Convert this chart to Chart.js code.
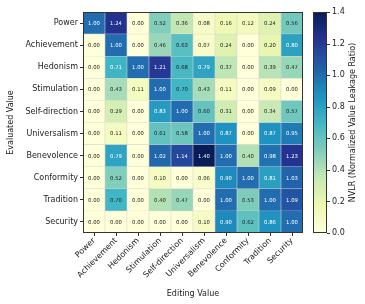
<!DOCTYPE html>
<html lang="en">
<head>
  <meta charset="UTF-8">
  <title>NVLR heatmap</title>
  <script src="https://cdn.jsdelivr.net/npm/chart.js@4/dist/chart.umd.min.js"></script>
  <style>
    html, body { margin: 0; padding: 0; background: #fff; }
    #wrap { width: 365px; height: 304px; }
  </style>
</head>
<body>
  <div id="wrap"><canvas id="myChart"></canvas></div>
<script>
  // editing value (columns) / evaluated value (rows)
  const editingValues = ['Power', 'Achievement', 'Hedonism', 'Stimulation', 'Self-direction',
    'Universalism', 'Benevolence', 'Conformity', 'Tradition', 'Security'];
  const evaluatedValues = editingValues.slice();

  const power         = [1.00, 1.24, 0.00, 0.52, 0.36, 0.08, 0.16, 0.12, 0.24, 0.56];
  const achievement   = [0.00, 1.00, 0.00, 0.46, 0.63, 0.07, 0.24, 0.00, 0.20, 0.80];
  const hedonism      = [0.00, 0.71, 1.00, 1.21, 0.68, 0.79, 0.37, 0.00, 0.39, 0.47];
  const stimulation   = [0.00, 0.43, 0.11, 1.00, 0.70, 0.43, 0.11, 0.00, 0.09, 0.00];
  const selfDirection = [0.00, 0.29, 0.00, 0.83, 1.00, 0.60, 0.31, 0.00, 0.34, 0.57];
  const universalism  = [0.00, 0.11, 0.00, 0.61, 0.58, 1.00, 0.87, 0.00, 0.87, 0.95];
  const benevolence   = [0.00, 0.79, 0.00, 1.02, 1.14, 1.40, 1.00, 0.40, 0.98, 1.23];
  const conformity    = [0.00, 0.52, 0.00, 0.10, 0.00, 0.06, 0.90, 1.00, 0.81, 1.03];
  const tradition     = [0.00, 0.70, 0.00, 0.40, 0.47, 0.00, 1.00, 0.53, 1.00, 1.09];
  const security      = [0.00, 0.00, 0.00, 0.00, 0.00, 0.10, 0.90, 0.62, 0.86, 1.00];

  const rows = [power, achievement, hedonism, stimulation, selfDirection,
    universalism, benevolence, conformity, tradition, security];

  const colorbarTicks = [0.0, 0.2, 0.4, 0.6, 0.8, 1.0, 1.2, 1.4];
  const vmin = 0, vmax = 1.4;

  // YlGnBu
  const ylgnbu = ['#ffffd9', '#edf8b1', '#c7e9b4', '#7fcdbb', '#41b6c4', '#1d91c0', '#225ea8', '#253494', '#081d58'];
  function hex(h) { return [1, 3, 5].map(i => parseInt(h.substr(i, 2), 16)); }
  function cmap(v) {
    let t = Math.max(0, Math.min(1, (v - vmin) / (vmax - vmin))) * (ylgnbu.length - 1);
    let i = Math.min(Math.floor(t), ylgnbu.length - 2);
    let f = t - i;
    let a = hex(ylgnbu[i]), b = hex(ylgnbu[i + 1]);
    let c = a.map((x, k) => Math.round(x + (b[k] - x) * f));
    return 'rgb(' + c.join(',') + ')';
  }

  const FONT = 'DejaVu Sans';

  // cell values + frame + colorbar
  const heatExtras = {
    id: 'heatExtras',
    afterDatasetsDraw(chart) {
      const ctx = chart.ctx;
      const area = chart.chartArea;
      ctx.save();
      ctx.font = '5.3px ' + FONT;
      ctx.textAlign = 'center';
      ctx.textBaseline = 'middle';
      chart.data.datasets.forEach((ds, r) => {
        chart.getDatasetMeta(r).data.forEach((el, c) => {
          const v = rows[r][c];
          const p = el.getCenterPoint();
          ctx.fillStyle = v > 0.7 ? '#ffffff' : '#222222';
          ctx.fillText(v.toFixed(2), p.x, p.y + 0.5);
        });
      });
      // frame
      ctx.strokeStyle = '#333';
      ctx.lineWidth = 1;
      ctx.strokeRect(area.left + 0.5, area.top + 0.5, area.right - area.left - 1, area.bottom - area.top - 1);

      // colorbar
      const cx = area.right + 10, cw = 14;
      const grad = ctx.createLinearGradient(0, area.bottom, 0, area.top);
      for (let k = 0; k <= 40; k++) {
        grad.addColorStop(k / 40, cmap(vmin + (vmax - vmin) * k / 40));
      }
      ctx.fillStyle = grad;
      ctx.fillRect(cx, area.top, cw, area.bottom - area.top);
      ctx.strokeStyle = '#333';
      ctx.strokeRect(cx + 0.5, area.top + 0.5, cw - 1, area.bottom - area.top - 1);
      ctx.fillStyle = '#222';
      ctx.font = '8px ' + FONT;
      ctx.textAlign = 'left';
      colorbarTicks.forEach(t => {
        const y = area.bottom - (t - vmin) / (vmax - vmin) * (area.bottom - area.top);
        ctx.beginPath();
        ctx.moveTo(cx + cw, Math.round(y) + 0.5);
        ctx.lineTo(cx + cw + 3, Math.round(y) + 0.5);
        ctx.stroke();
        ctx.fillText(t.toFixed(1), cx + cw + 5, y);
      });
      ctx.translate(cx + cw + 26, (area.top + area.bottom) / 2);
      ctx.rotate(-Math.PI / 2);
      ctx.textAlign = 'center';
      ctx.fillText('NVLR (Normalized Value Leakage Ratio)', 0, 0);
      ctx.restore();
    }
  };

  const config = {
    type: 'bar',
    data: {
      labels: editingValues,
      datasets: rows.map((row, r) => ({
        label: evaluatedValues[r],
        data: row.map(() => 1), // each row stacked one unit tall
        backgroundColor: ctx => cmap(rows[r][ctx.dataIndex]),
        borderColor: 'rgba(190,190,190,0.6)',
        borderWidth: 0.6,
        barPercentage: 1,
        categoryPercentage: 1
      }))
    },
    options: {
      responsive: true,
      maintainAspectRatio: false,
      animation: false,
      layout: { padding: { top: 12, right: 62, left: 2, bottom: 5 } },
      plugins: {
        legend: { display: false },
        tooltip: { enabled: false }
      },
      scales: {
        x: {
          stacked: true,
          grid: { display: true, drawOnChartArea: false, offset: false, tickLength: 3, color: '#333' },
          border: { display: false },
          ticks: { color: '#222', font: { family: FONT, size: 8 }, maxRotation: 45, minRotation: 45, padding: 0, autoSkip: false },
          title: { display: true, text: 'Editing Value', color: '#222', font: { family: FONT, size: 8 }, padding: { top: 4, bottom: 0 } },
          afterFit: s => { s.height = 66; }
        },
        y: {
          stacked: true,
          reverse: true,
          min: 0,
          max: 10,
          grid: { display: true, drawOnChartArea: false, tickLength: 3, color: '#333' },
          border: { display: false },
          afterBuildTicks: s => { s.ticks = evaluatedValues.map((_, i) => ({ value: i + 0.5 })); },
          ticks: {
            color: '#222', font: { family: FONT, size: 8 }, padding: 2, autoSkip: false,
            callback: (v, i) => evaluatedValues[i]
          },
          title: { display: true, text: 'Evaluated Value', color: '#222', font: { family: FONT, size: 8 }, padding: { bottom: 2 } },
          afterFit: s => { s.width = 81; }
        }
      }
    },
    plugins: [heatExtras]
  };

  const myChart = new Chart(document.getElementById('myChart').getContext('2d'), config);
</script>
</body>
</html>
